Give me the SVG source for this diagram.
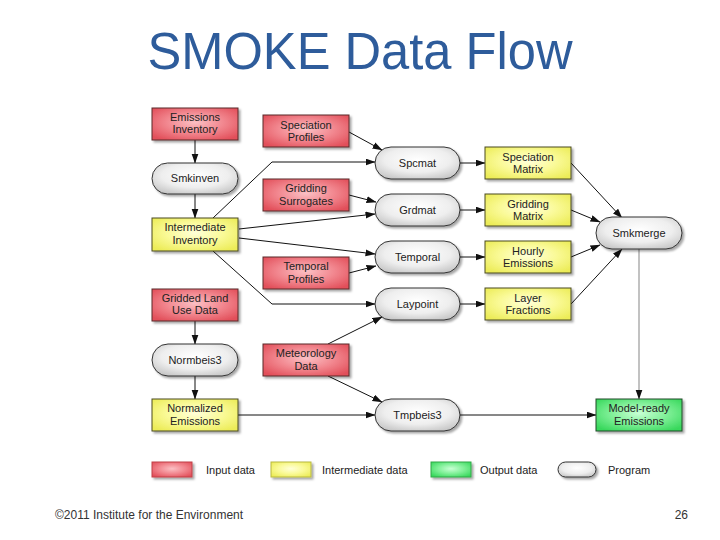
<svg xmlns="http://www.w3.org/2000/svg" width="720" height="540" viewBox="0 0 720 540">
<defs>
<radialGradient id="gRed" cx="50%" cy="45%" r="65%"><stop offset="0" stop-color="#FBC0C4"/><stop offset="0.5" stop-color="#F28890"/><stop offset="1" stop-color="#E24F5A"/></radialGradient>
<radialGradient id="gYel" cx="50%" cy="45%" r="65%"><stop offset="0" stop-color="#FFFFD8"/><stop offset="0.5" stop-color="#FAFA98"/><stop offset="1" stop-color="#ECEC58"/></radialGradient>
<radialGradient id="gGrn" cx="50%" cy="45%" r="65%"><stop offset="0" stop-color="#C8FFD4"/><stop offset="0.5" stop-color="#80F098"/><stop offset="1" stop-color="#38D85C"/></radialGradient>
<radialGradient id="gGry" cx="50%" cy="40%" r="65%"><stop offset="0" stop-color="#FFFFFF"/><stop offset="0.6" stop-color="#EEEEEE"/><stop offset="1" stop-color="#C8C8C8"/></radialGradient>
<filter id="sh" x="-10%" y="-10%" width="130%" height="140%"><feDropShadow dx="2" dy="2" stdDeviation="1.2" flood-color="#000" flood-opacity="0.35"/></filter>
<marker id="ar" markerWidth="10" markerHeight="8" refX="9.5" refY="3.5" orient="auto" markerUnits="userSpaceOnUse"><path d="M0,0 L10,3.5 L0,7 z" fill="#111"/></marker>
<style>
.red{fill:url(#gRed);stroke:#5a2a2a;stroke-width:1;filter:url(#sh)}
.yel{fill:url(#gYel);stroke:#4a4a20;stroke-width:1;filter:url(#sh)}
.grn{fill:url(#gGrn);stroke:#204a28;stroke-width:1;filter:url(#sh)}
.prg{fill:url(#gGry);stroke:#333;stroke-width:1;filter:url(#sh)}
.t{font-family:"Liberation Sans",Arial,sans-serif;font-size:11px;fill:#222;text-anchor:middle}
.lt{font-family:"Liberation Sans",Arial,sans-serif;font-size:11px;fill:#222}
.c{fill:none;stroke:#111;stroke-width:1;marker-end:url(#ar)}
.cg{fill:none;stroke:#999;stroke-width:1.2;marker-end:url(#ar)}
</style>
</defs>
<rect width="720" height="540" fill="#fff"/>
<text x="360" y="69" font-family="Liberation Sans, Arial, sans-serif" font-size="51" fill="#2E5C9B" text-anchor="middle" textLength="425" lengthAdjust="spacingAndGlyphs">SMOKE Data Flow</text>

<g id="connectors">
<path class="c" d="M195,140 V163"/>
<path class="c" d="M195,194 V218"/>
<path class="c" d="M213,218 L272,162 L375,162"/>
<path class="c" d="M239,229 L375,214"/>
<path class="c" d="M239,238 L375,254"/>
<path class="c" d="M213,251 L272,304 L375,304"/>
<path class="c" d="M349,132 L382,150"/>
<path class="c" d="M349,195 L376,202"/>
<path class="c" d="M349,273 L376,266"/>
<path class="c" d="M328,344 L382,317"/>
<path class="c" d="M328,376 L382,402"/>
<path class="c" d="M195,321 V344"/>
<path class="c" d="M195,376 V399"/>
<path class="c" d="M238,415 H375"/>
<path class="c" d="M460,163 H485"/>
<path class="c" d="M460,210 H485"/>
<path class="c" d="M460,257 H485"/>
<path class="c" d="M460,304 H485"/>
<path class="c" d="M571,163 L622,218"/>
<path class="c" d="M571,210 L600,222"/>
<path class="c" d="M571,257 L600,245"/>
<path class="c" d="M571,304 L622,249"/>
<path class="cg" d="M639,249 V399"/>
<path class="c" d="M460,415 H596"/>
</g>

<g id="emissions-inventory"><rect class="red" x="152" y="108" width="86" height="32"/><text class="t" x="195" y="121">Emissions</text><text class="t" x="195" y="133">Inventory</text></g>
<g id="smkinven"><rect class="prg" x="152" y="163" width="86" height="31" rx="15.5"/><text class="t" x="195" y="182">Smkinven</text></g>
<g id="intermediate-inventory"><rect class="yel" x="152" y="218" width="86" height="33"/><text class="t" x="195" y="231">Intermediate</text><text class="t" x="195" y="244">Inventory</text></g>
<g id="speciation-profiles"><rect class="red" x="263" y="115" width="86" height="32"/><text class="t" x="306" y="129">Speciation</text><text class="t" x="306" y="141">Profiles</text></g>
<g id="gridding-surrogates"><rect class="red" x="263" y="179" width="86" height="32"/><text class="t" x="306" y="192">Gridding</text><text class="t" x="306" y="205">Surrogates</text></g>
<g id="temporal-profiles"><rect class="red" x="263" y="257" width="86" height="32"/><text class="t" x="306" y="270">Temporal</text><text class="t" x="306" y="283">Profiles</text></g>
<g id="gridded-land-use"><rect class="red" x="152" y="289" width="86" height="32"/><text class="t" x="195" y="302">Gridded Land</text><text class="t" x="195" y="314">Use Data</text></g>
<g id="normbeis3"><rect class="prg" x="152" y="344" width="86" height="32" rx="16"/><text class="t" x="195" y="364">Normbeis3</text></g>
<g id="normalized-emissions"><rect class="yel" x="152" y="399" width="86" height="32"/><text class="t" x="195" y="412">Normalized</text><text class="t" x="195" y="425">Emissions</text></g>
<g id="meteorology-data"><rect class="red" x="263" y="344" width="86" height="32"/><text class="t" x="306" y="357">Meteorology</text><text class="t" x="306" y="370">Data</text></g>
<g id="spcmat"><rect class="prg" x="375" y="147" width="85" height="32" rx="16"/><text class="t" x="417.5" y="167">Spcmat</text></g>
<g id="grdmat"><rect class="prg" x="375" y="194" width="85" height="32" rx="16"/><text class="t" x="417.5" y="214">Grdmat</text></g>
<g id="temporal"><rect class="prg" x="375" y="241" width="85" height="32" rx="16"/><text class="t" x="417.5" y="261">Temporal</text></g>
<g id="laypoint"><rect class="prg" x="375" y="288" width="85" height="32" rx="16"/><text class="t" x="417.5" y="308">Laypoint</text></g>
<g id="tmpbeis3"><rect class="prg" x="375" y="399" width="85" height="32" rx="16"/><text class="t" x="417.5" y="419">Tmpbeis3</text></g>
<g id="speciation-matrix"><rect class="yel" x="485" y="147" width="86" height="32"/><text class="t" x="528" y="161">Speciation</text><text class="t" x="528" y="173">Matrix</text></g>
<g id="gridding-matrix"><rect class="yel" x="485" y="194" width="86" height="32"/><text class="t" x="528" y="208">Gridding</text><text class="t" x="528" y="220">Matrix</text></g>
<g id="hourly-emissions"><rect class="yel" x="485" y="241" width="86" height="32"/><text class="t" x="528" y="255">Hourly</text><text class="t" x="528" y="267">Emissions</text></g>
<g id="layer-fractions"><rect class="yel" x="485" y="288" width="86" height="32"/><text class="t" x="528" y="302">Layer</text><text class="t" x="528" y="314">Fractions</text></g>
<g id="smkmerge"><rect class="prg" x="596" y="217" width="86" height="32" rx="16"/><text class="t" x="639" y="237">Smkmerge</text></g>
<g id="model-ready-emissions"><rect class="grn" x="596" y="399" width="86" height="32"/><text class="t" x="639" y="412">Model-ready</text><text class="t" x="639" y="425">Emissions</text></g>

<g id="legend">
<rect class="red" x="152" y="462" width="40" height="15" style="stroke:#c04048"/><text class="lt" x="206" y="474">Input data</text>
<rect class="yel" x="271" y="462" width="40" height="15" style="stroke:#b8b840"/><text class="lt" x="322" y="474">Intermediate data</text>
<rect class="grn" x="431" y="462" width="40" height="15" style="stroke:#30a848"/><text class="lt" x="480" y="474">Output data</text>
<rect class="prg" x="558" y="462" width="38" height="15" rx="7.5"/><text class="lt" x="608" y="474">Program</text>
</g>

<text x="55" y="519" font-family="Liberation Sans, Arial, sans-serif" font-size="12" fill="#333">©2011 Institute for the Environment</text>
<text x="688" y="519" font-family="Liberation Sans, Arial, sans-serif" font-size="12" fill="#333" text-anchor="end">26</text>
</svg>
